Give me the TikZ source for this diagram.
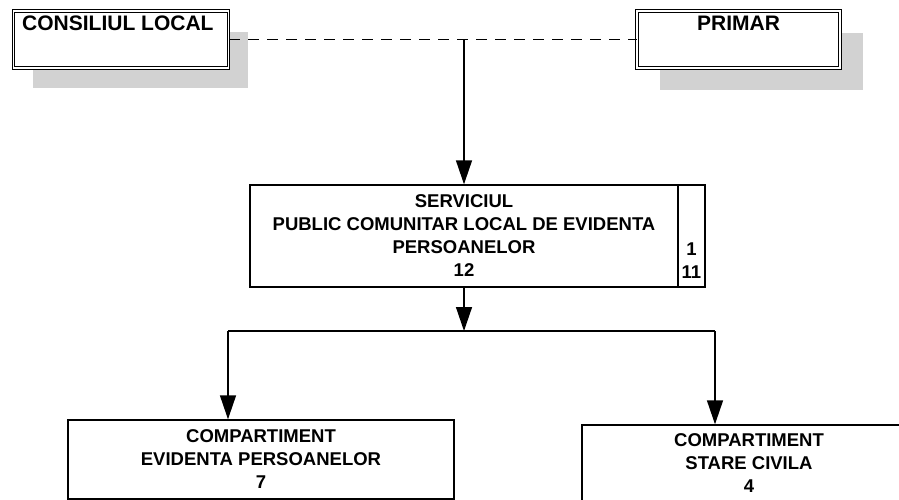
\documentclass[tikz,border=0pt]{standalone}
\usepackage{fontspec}
\setmainfont{Liberation Sans}
\usetikzlibrary{arrows.meta}

\tikzset{
  shadowbox/.style={fill=gray!35, draw=none},
  headbox/.style={draw, double, double distance=1.4pt, line width=1pt, fill=white, inner sep=0pt},
  headtext/.style={inner sep=0pt, font=\bfseries\fontsize{21}{25}\selectfont},
  unitbox/.style={draw, line width=1.4pt, fill=white, inner sep=0pt, align=center, font=\bfseries\fontsize{18.5}{23}\selectfont},
  plainline/.style={line width=1.4pt},
  link/.style={line width=1.4pt, -{Triangle[length=24pt,width=16pt]}},
  dashline/.style={line width=1.4pt, dash pattern=on 11pt off 8pt},
}

\begin{document}
\begin{tikzpicture}[x=1pt,y=1pt,yscale=-1]
\clip (0,0) rectangle (899,500);

% shadows of the top boxes
\fill[shadowbox] (33,32) rectangle (248,88);
\fill[shadowbox] (660,33) rectangle (863,90);

% top boxes
\node[headbox, minimum width=215pt, minimum height=57pt] (consiliu) at (121,39.5) {};
\node[headtext, anchor=north west] (consiliutext) at (22,16) {CONSILIUL LOCAL};
\node[headbox, minimum width=203pt, minimum height=57pt] (primar) at (738.5,39.5) {};
\node[headtext, anchor=north] (primartext) at (738.5,16) {PRIMAR};

% service
\node[unitbox, minimum width=428pt, minimum height=102pt] (serviciu) at (464,236)
  {SERVICIUL\\PUBLIC COMUNITAR LOCAL DE EVIDENTA\\PERSOANELOR\\12};
\node[unitbox, minimum width=27pt, minimum height=102pt] (posturi) at (691.5,236) {};
\node[unitbox, draw=none, fill=none, anchor=south] (posturitext) at (691.5,279) {1\\11};

% compartments
\node[unitbox, minimum width=386pt, minimum height=79pt] (evidenta) at (261,459.5)
  {COMPARTIMENT\\EVIDENTA PERSOANELOR\\7};
\node[unitbox, minimum width=334pt, minimum height=77pt] (stare) at (749,463.5)
  {COMPARTIMENT\\STARE CIVILA\\4};

% connectors
\coordinate (junction) at (464,40);
\coordinate (split) at (464,331);
\coordinate (splitleft) at (228,331);
\coordinate (splitright) at (715,331);

\draw[dashline] (consiliu.east) -- (primar.west);
\draw[link] (junction) -- (serviciu.north);
\draw[link] (serviciu.south) -- (split);
\draw[plainline] (splitleft) -- (splitright);
\draw[link] (splitleft) -- (splitleft |- evidenta.north);
\draw[link] (splitright) -- (splitright |- stare.north);

\end{tikzpicture}
\end{document}
